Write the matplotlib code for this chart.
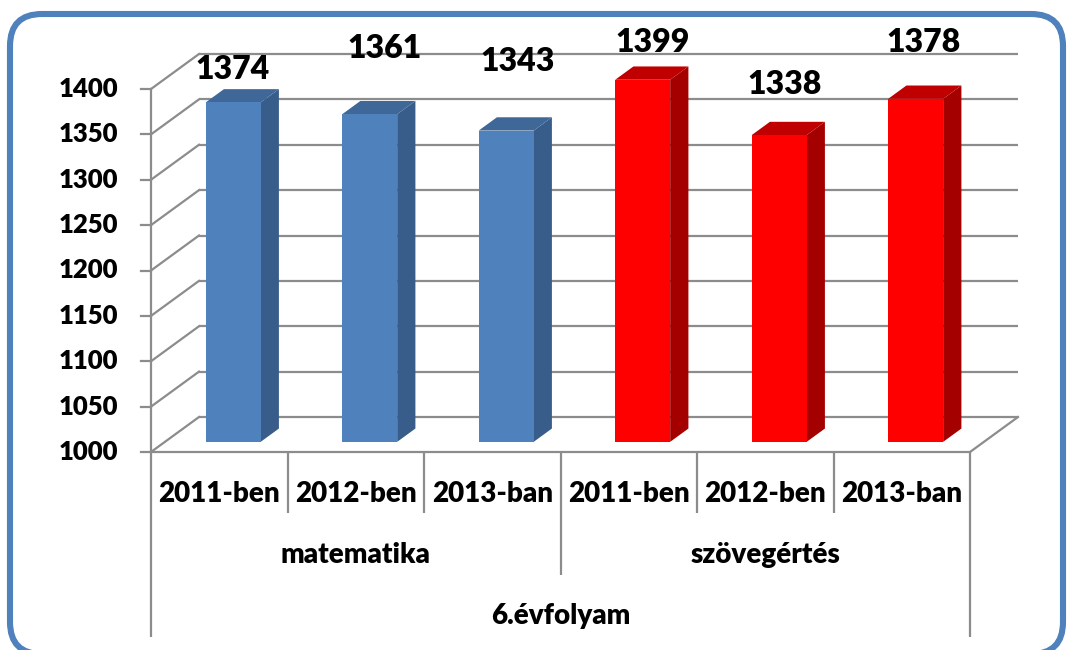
import matplotlib
matplotlib.use("Agg")
import matplotlib.pyplot as plt
from matplotlib.patches import Polygon, FancyBboxPatch

# ---- data ----
categories = ["2011-ben", "2012-ben", "2013-ban", "2011-ben", "2012-ben", "2013-ban"]
groups = ["matematika", "szövegértés"]
supergroup = "6.évfolyam"
values = [1374, 1361, 1343, 1399, 1338, 1378]
y_ticks = [1000, 1050, 1100, 1150, 1200, 1250, 1300, 1350, 1400]

# label placement tweaks (pixels): horizontal shift, height above bar top
label_dx = [-1, 15, 11, 10, 5, 8]
label_dy = [20, 52, 56, 24, 37, 43]

# ---- styles ----
face_colors = ["#4F81BD"] * 3 + ["#FF0000"] * 3
side_colors = ["#385D8A"] * 3 + ["#A50000"] * 3
top_colors = ["#3F6797"] * 3 + ["#C00000"] * 3
grid_col = "#8C8C8C"
FONT = "Lato"
WEIGHT = "heavy"

W, H = 1067, 650
DPI = 100
fig = plt.figure(figsize=(W / DPI, H / DPI), dpi=DPI)

# pixel layout of the front plane
PX_X0 = 151.0        # left end of front floor
PX_CAT = 136.5       # pixels per category
PX_Y0 = 452.0        # pixel row of value 1000 (front)
PX_UNIT = 0.9075     # pixels per value unit
VMIN = 1000

# background axes in pixel coordinates for the frame
axb = fig.add_axes([0, 0, 1, 1], zorder=0)
axb.set_xlim(0, W)
axb.set_ylim(H, 0)
axb.axis("off")
frame = FancyBboxPatch((10, 14), 1053, 640, boxstyle="round,pad=0,rounding_size=32",
                       fc="white", ec="#4F81BD", lw=4.4)
axb.add_patch(frame)

ax = fig.add_axes([0, 0, 1, 1], zorder=1)
ax.patch.set_alpha(0)
ax.axis("off")
ax.set_xlim(-0.5 - PX_X0 / PX_CAT, -0.5 + (W - PX_X0) / PX_CAT)
ax.set_ylim(VMIN - (H - PX_Y0) / PX_UNIT, VMIN + PX_Y0 / PX_UNIT)


def pyv(py):
    """pixel row -> value coordinate"""
    return VMIN - (py - PX_Y0) / PX_UNIT


n = len(values)
DX = 48 / PX_CAT
DY = 35 / PX_UNIT
x_left, x_right = -0.5, n - 0.5
ymax = y_ticks[-1]
glw = 1.6

# back wall gridlines and left wall diagonals
for v in y_ticks:
    ax.plot([x_left + DX, x_right + DX], [v + DY, v + DY], color=grid_col, lw=glw, zorder=1,
            solid_capstyle="butt")
    ax.plot([x_left, x_left + DX], [v, v + DY], color=grid_col, lw=glw, zorder=1)
    ax.plot([x_left - 10 / PX_CAT, x_left], [v, v], color=grid_col, lw=glw, zorder=1)
    ax.text(x_left - 33 / PX_CAT, v, str(v), ha="right", va="center",
            fontsize=18.5, fontweight=WEIGHT, family=FONT, color="black")

# front axis, floor edges
ax.plot([x_left, x_left], [VMIN, ymax], color=grid_col, lw=glw, zorder=1)
ax.plot([x_left, x_right], [VMIN, VMIN], color=grid_col, lw=glw, zorder=1)
ax.plot([x_right, x_right + DX], [VMIN, VMIN + DY], color=grid_col, lw=glw, zorder=1)

# bars
f1, f2 = 0.29, 0.67
hw = 27.5 / PX_CAT
for i, v in enumerate(values):
    xl = i - hw
    xr = i + hw
    b1 = VMIN + f1 * DY
    b2 = VMIN + f2 * DY
    front = [(xl + f1 * DX, b1), (xr + f1 * DX, b1), (xr + f1 * DX, v + f1 * DY), (xl + f1 * DX, v + f1 * DY)]
    side = [(xr + f1 * DX, b1), (xr + f2 * DX, b2), (xr + f2 * DX, v + f2 * DY), (xr + f1 * DX, v + f1 * DY)]
    top = [(xl + f1 * DX, v + f1 * DY), (xr + f1 * DX, v + f1 * DY), (xr + f2 * DX, v + f2 * DY), (xl + f2 * DX, v + f2 * DY)]
    ax.add_patch(Polygon(side, closed=True, fc=side_colors[i], ec="none", zorder=3))
    ax.add_patch(Polygon(top, closed=True, fc=top_colors[i], ec="none", zorder=3))
    ax.add_patch(Polygon(front, closed=True, fc=face_colors[i], ec="none", zorder=4))
    ax.annotate(str(v), xy=(i + f1 * DX, v + f2 * DY), xytext=(label_dx[i], label_dy[i]),
                textcoords="offset pixels", ha="center", va="center",
                fontsize=23, fontweight=WEIGHT, family=FONT, color="black", zorder=5)

# category axis (multi-level)
row1_bottom = pyv(513)
row2_bottom = pyv(575)
row3_bottom = pyv(637)
gsize = 3
for k in range(n + 1):
    xb = x_left + k
    if k == 0 or k == n:
        yb = row3_bottom
    elif k % gsize == 0:
        yb = row2_bottom
    else:
        yb = row1_bottom
    ax.plot([xb, xb], [VMIN, yb], color=grid_col, lw=glw, zorder=1, solid_capstyle="butt")

for i, c in enumerate(categories):
    ax.text(i, pyv(494), c, ha="center", va="center", fontsize=20, fontweight=WEIGHT,
            family=FONT, color="black")
for g, name in enumerate(groups):
    ax.text(g * gsize + (gsize - 1) / 2, pyv(555), name, ha="center", va="center",
            fontsize=20, fontweight=WEIGHT, family=FONT, color="black")
ax.text((n - 1) / 2, pyv(616), supergroup, ha="center", va="center", fontsize=20,
        fontweight=WEIGHT, family=FONT, color="black")

fig.savefig("out.png", dpi=DPI)
